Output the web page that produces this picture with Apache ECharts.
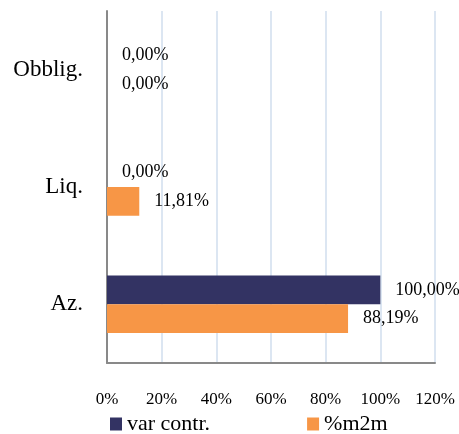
<!DOCTYPE html>
<html>
<head>
<meta charset="utf-8">
<script src="https://cdn.jsdelivr.net/npm/echarts@6/dist/echarts.min.js"></script>
<style>
  html, body { margin: 0; padding: 0; background: #fff; }
  #chart { width: 459px; height: 434px; }
</style>
</head>
<body>
<div id="chart"></div>
<script>
// categories bottom-to-top as drawn on the y axis
const categories = ['Az.', 'Liq.', 'Obblig.']
const varContr = [1.0, 0, 0]
const m2m = [0.8819, 0.1181, 0]
const seriesNames = ['var contr.', '%m2m']

const serif = 'Liberation Serif'

function pct(v) {
  return (v * 100).toFixed(2).replace('.', ',') + '%'
}

const chart = echarts.init(document.getElementById('chart'))

const labelStyle = {
  show: true,
  position: 'right',
  distance: 15,
  color: '#000',
  fontFamily: serif,
  fontSize: 18,
  formatter: (p) => pct(p.value),
}

chart.setOption({
  backgroundColor: '#fff',
  animation: false,
  grid: { left: 107, right: 24, top: 11, bottom: 71 },
  legend: {
    data: seriesNames,
    left: 105,
    top: 408,
    itemWidth: 12,
    itemHeight: 13,
    itemGap: 97,
    icon: 'rect',
    textStyle: { fontFamily: serif, fontSize: 22, color: '#000' },
  },
  xAxis: {
    type: 'value',
    min: 0,
    max: 1.2,
    interval: 0.2,
    axisLine: { show: true, lineStyle: { color: '#898989', width: 2 } },
    axisTick: { show: false },
    splitLine: { show: true, lineStyle: { color: '#dce6f2', width: 2 } },
    axisLabel: {
      margin: 28,
      color: '#000',
      fontFamily: serif,
      fontSize: 17,
      formatter: (v) => Math.round(v * 100) + '%',
    },
  },
  yAxis: {
    type: 'category',
    data: categories,
    axisLine: { show: true, lineStyle: { color: '#898989', width: 2 } },
    axisTick: { show: false },
    axisLabel: { margin: 24, color: '#000', fontFamily: serif, fontSize: 23 },
  },
  series: [
    {
      name: 'var contr.',
      type: 'bar',
      data: varContr,
      barGap: '0%',
      barCategoryGap: '51%',
      itemStyle: { color: '#333363' },
      label: labelStyle,
    },
    {
      name: '%m2m',
      type: 'bar',
      data: m2m,
      barGap: '0%',
      barCategoryGap: '51%',
      itemStyle: { color: '#f79646' },
      label: labelStyle,
    },
  ],
})
</script>
</body>
</html>
